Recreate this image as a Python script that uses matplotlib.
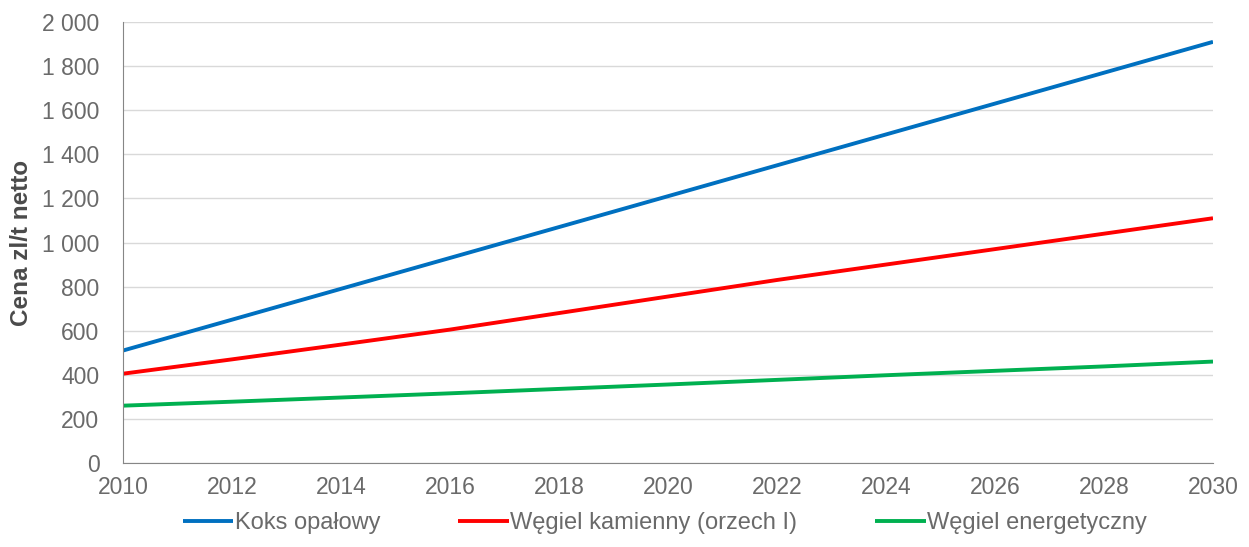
import matplotlib
matplotlib.use("Agg")
import matplotlib.pyplot as plt
from matplotlib.ticker import FuncFormatter

years = [2010, 2012, 2014, 2016, 2018, 2020, 2022, 2024, 2026, 2028, 2030]
koks = [510, 650, 790, 930, 1070, 1210, 1350, 1490, 1630, 1770, 1910]
wegiel_kam = [405, 470, 537, 605, 680, 755, 830, 900, 970, 1040, 1110]
wegiel_en = [260, 278, 297, 316, 336, 356, 377, 398, 418, 438, 460]
series_names = ["Koks opałowy", "Węgiel kamienny (orzech I)", "Węgiel energetyczny"]
colors = ["#0070C0", "#FF0000", "#00B050"]

plt.rcParams['font.family'] = ['Liberation Sans', 'DejaVu Sans']

fig = plt.figure(figsize=(12.49, 5.47), dpi=100)
ax = fig.add_axes([123/1249, 1-463/547, (1213-123)/1249, (463-22)/547])

for vals, name, c in zip([koks, wegiel_kam, wegiel_en], series_names, colors):
    ax.plot(years, vals, color=c, lw=2.8, label=name, solid_capstyle='butt')

ax.set_xlim(2010, 2030)
ax.set_ylim(0, 2000)
ax.set_xticks(years)
ax.set_yticks(range(0, 2001, 200))
ax.yaxis.set_major_formatter(FuncFormatter(lambda v, p: f"{int(v):,}".replace(",", " ")))
ax.grid(axis='y', color='#d9d9d9', lw=1)
ax.set_axisbelow(True)
for s in ['top', 'right']:
    ax.spines[s].set_visible(False)
for s in ['left', 'bottom']:
    ax.spines[s].set_color('#868686')
ax.tick_params(axis='both', length=0, labelsize=16.5, labelcolor='#6a6a6a')
ax.tick_params(axis='x', pad=9)
ax.tick_params(axis='y', pad=17)
ax.set_ylabel("Cena zl/t netto", fontsize=17.5, fontweight='bold', color='#4a4a4a')
ax.yaxis.set_label_coords(-(123-33)/1090, 0.5)

leg = ax.legend(loc='center', bbox_to_anchor=(0.497, -0.136), ncol=3, frameon=False,
                fontsize=17, handlelength=2.15, handletextpad=0.05, columnspacing=3.3,
                borderpad=0)
for t in leg.get_texts():
    t.set_color('#6a6a6a')

fig.savefig("out.png", dpi=100)
